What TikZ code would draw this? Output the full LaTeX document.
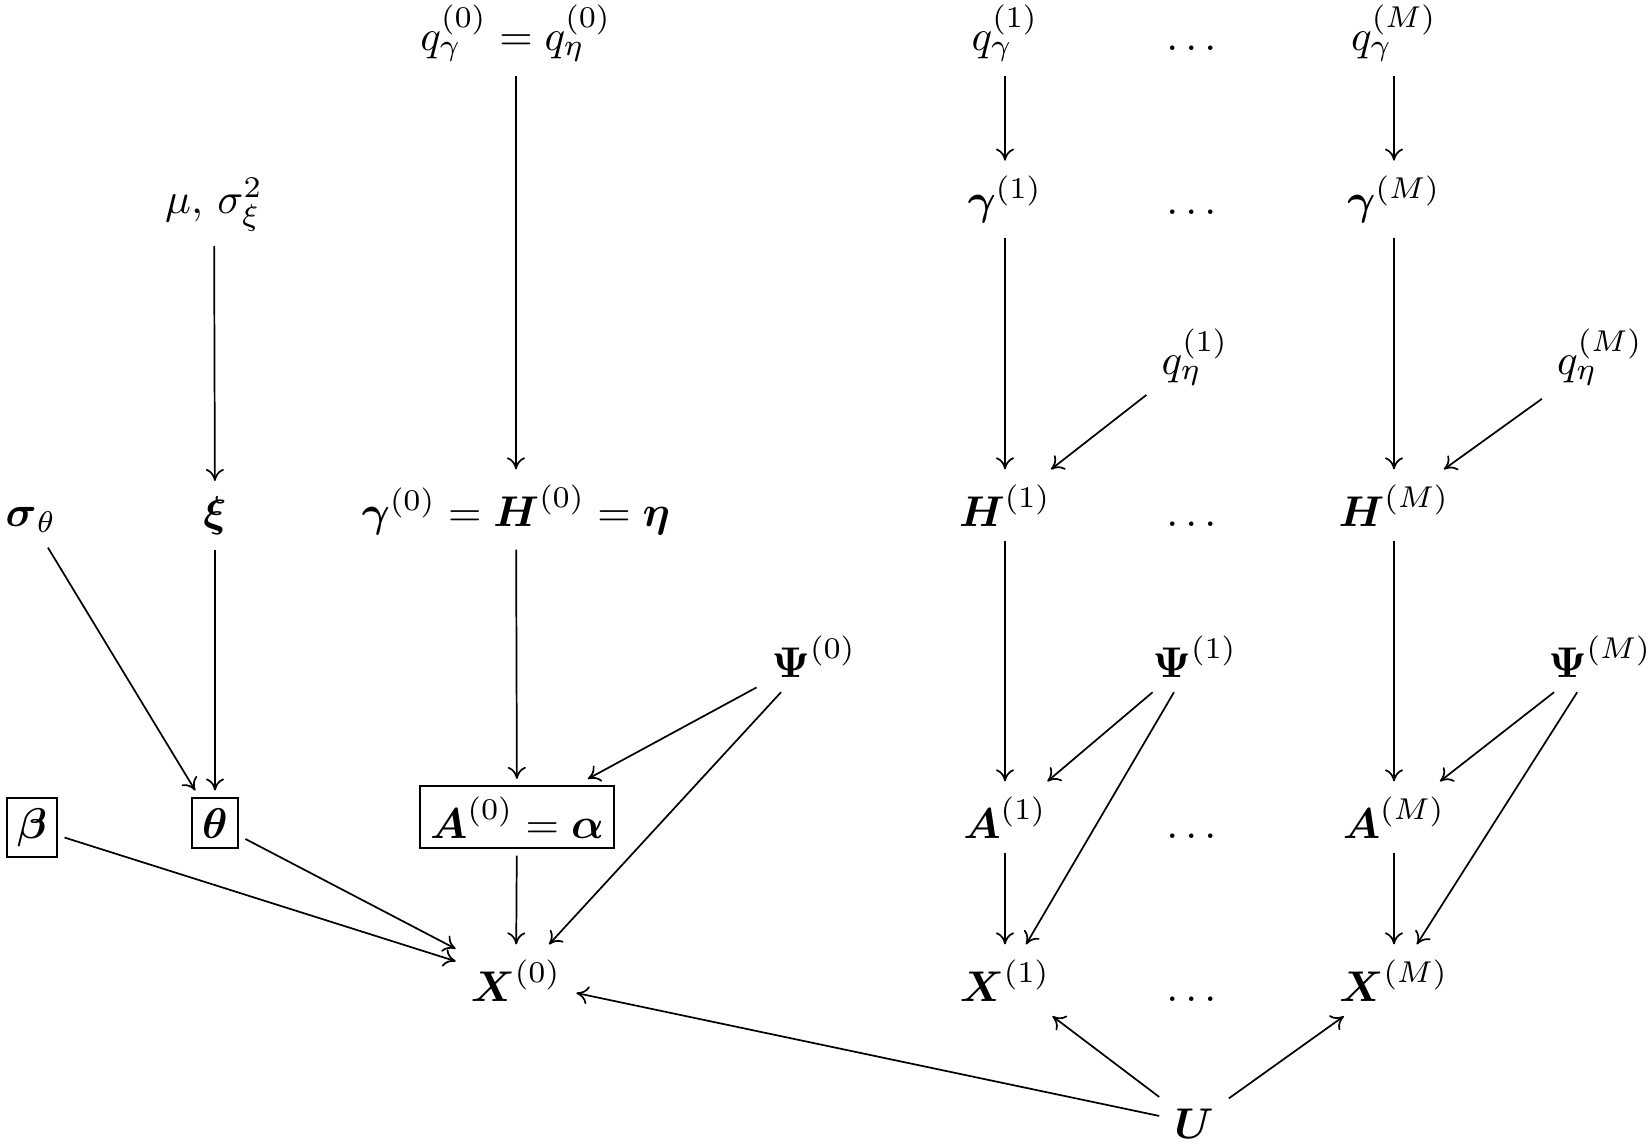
\documentclass[tikz,border=0pt]{standalone}
\usepackage{amsmath,amssymb}
\usetikzlibrary{arrows.meta}
\begin{document}
\begin{tikzpicture}[x=0.2326pt,y=-0.2326pt,
  lbl/.style={anchor=base},
  bx/.style={anchor=base,draw,inner sep=2.4pt,outer sep=1.7pt},
  arr/.style={-{To[length=2.8pt,width=4.2pt]}}]
\useasboundingbox (0,0) rectangle (1649,1145);
% row 1
\node[lbl] (q0) at (516,50) {$q_\gamma^{(0)} = q_\eta^{(0)}$};
\node[lbl] (qg1) at (1005,50) {$q_\gamma^{(1)}$};
\node[lbl] (d1) at (1195,50) {$\dots$};
\node[lbl] (qgM) at (1394,50) {$q_\gamma^{(M)}$};
% row 2
\node[lbl] (musig) at (214,213) {$\mu,\,\sigma_\xi^2$};
\node[lbl] (g1) at (1005,214) {$\boldsymbol{\gamma}^{(1)}$};
\node[lbl] (d2) at (1195,214) {$\dots$};
\node[lbl] (gM) at (1394,214) {$\boldsymbol{\gamma}^{(M)}$};
% row 3
\node[lbl] (qe1) at (1195,374) {$q_\eta^{(1)}$};
\node[lbl] (qeM) at (1600,374) {$q_\eta^{(M)}$};
% row 4
\node[lbl] (sigt) at (31,526) {$\boldsymbol{\sigma}_\theta$};
\node[lbl] (xi) at (215,526) {$\boldsymbol{\xi}$};
\node[lbl] (H0) at (516,526) {$\boldsymbol{\gamma}^{(0)} = \boldsymbol{H}^{(0)} = \boldsymbol{\eta}$};
\node[lbl] (H1) at (1005,526) {$\boldsymbol{H}^{(1)}$};
\node[lbl] (d4) at (1195,526) {$\dots$};
\node[lbl] (HM) at (1394,526) {$\boldsymbol{H}^{(M)}$};
% row 5
\node[lbl] (P0) at (814,677) {$\boldsymbol{\Psi}^{(0)}$};
\node[lbl] (P1) at (1195,677) {$\boldsymbol{\Psi}^{(1)}$};
\node[lbl] (PM) at (1600,677) {$\boldsymbol{\Psi}^{(M)}$};
% row 6
\node[bx] (beta) at (32,838) {$\boldsymbol{\beta}$};
\node[bx] (theta) at (215,838) {$\boldsymbol{\theta}$};
\node[bx] (A0) at (517,838) {$\boldsymbol{A}^{(0)} = \boldsymbol{\alpha}$};
\node[lbl] (A1) at (1005,838) {$\boldsymbol{A}^{(1)}$};
\node[lbl] (d6) at (1195,838) {$\dots$};
\node[lbl] (AM) at (1394,838) {$\boldsymbol{A}^{(M)}$};
% row 7
\node[lbl] (X0) at (516,1001) {$\boldsymbol{X}^{(0)}$};
\node[lbl] (X1) at (1005,1001) {$\boldsymbol{X}^{(1)}$};
\node[lbl] (d7) at (1195,1001) {$\dots$};
\node[lbl] (XM) at (1394,1001) {$\boldsymbol{X}^{(M)}$};
% row 8
\node[lbl] (U) at (1194,1138) {$\boldsymbol{U}$};
% arrows, block 0
\draw[arr] (q0) -- (H0);
\draw[arr] (musig) -- (xi);
\draw[arr] (xi) -- (theta);
\draw[arr] (sigt) -- (theta);
\draw[arr] (H0) -- (A0);
\draw[arr] (P0) -- (A0);
\draw[arr] (P0) -- (X0);
\draw[arr] (A0) -- (X0);
\draw[arr] (beta) -- (X0);
\draw[arr] (theta) -- (X0);
\draw[arr] (U) -- (X0);
% block 1
\draw[arr] (qg1) -- (g1);
\draw[arr] (g1) -- (H1);
\draw[arr] (qe1) -- (H1);
\draw[arr] (H1) -- (A1);
\draw[arr] (P1) -- (A1);
\draw[arr] (P1) -- (X1);
\draw[arr] (A1) -- (X1);
\draw[arr] (U) -- (X1);
% block M
\draw[arr] (qgM) -- (gM);
\draw[arr] (gM) -- (HM);
\draw[arr] (qeM) -- (HM);
\draw[arr] (HM) -- (AM);
\draw[arr] (PM) -- (AM);
\draw[arr] (PM) -- (XM);
\draw[arr] (AM) -- (XM);
\draw[arr] (U) -- (XM);
\end{tikzpicture}
\end{document}
